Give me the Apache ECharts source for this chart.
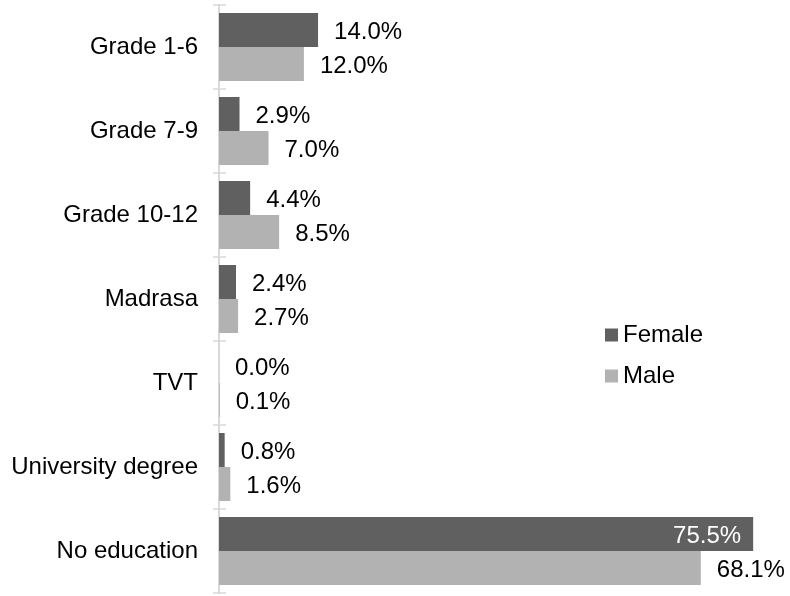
<!DOCTYPE html>
<html>
<head>
  <meta charset="utf-8">
  <title>Education by sex</title>
  <script src="https://cdn.jsdelivr.net/npm/echarts@6/dist/echarts.min.js"></script>
  <style>
    html, body { margin: 0; padding: 0; background: #fff; }
    #chart { width: 790px; height: 596px; }
  </style>
</head>
<body>
<div id="chart"></div>
<script>
  // data
  var categories = ['Grade 1-6', 'Grade 7-9', 'Grade 10-12', 'Madrasa', 'TVT', 'University degree', 'No education'];
  var female = [14.0, 2.9, 4.4, 2.4, 0.0, 0.8, 75.5];
  var male = [12.0, 7.0, 8.5, 2.7, 0.1, 1.6, 68.1];

  var font = 'Liberation Sans, Arial, sans-serif';
  var myChart = echarts.init(document.getElementById('chart'));

  function pct(p) { return p.value.toFixed(1) + '%'; }

  var option = {
    animation: false,
    textStyle: { fontFamily: font },
    legend: {
      orient: 'vertical',
      left: 600,
      top: 318,
      icon: 'rect',
      itemWidth: 13,
      itemHeight: 13,
      itemGap: 17,
      textStyle: { fontSize: 24, color: '#000', fontFamily: font },
      data: ['Female', 'Male']
    },
    grid: { left: 219, top: 5, width: 566, height: 588, containLabel: false },
    xAxis: {
      type: 'value',
      min: 0,
      max: 80,
      show: false
    },
    yAxis: [
      {
        type: 'category',
        data: categories,
        inverse: true,
        axisLine: { lineStyle: { color: '#d9d9d9', width: 2 } },
        axisTick: { show: true, length: 6, lineStyle: { color: '#d9d9d9', width: 1.5 } },
        axisLabel: { fontSize: 24, color: '#000', margin: 21, fontFamily: font }
      },
      {
        type: 'category',
        data: categories,
        inverse: true,
        position: 'left',
        offset: 0,
        axisLine: { show: false },
        axisTick: { show: true, inside: true, length: 7, lineStyle: { color: '#d9d9d9', width: 1.5 } },
        axisLabel: { show: false }
      }
    ],
    series: [
      {
        name: 'Female',
        type: 'bar',
        data: female.map(function (v, i) {
          if (i === 6) {
            return { value: v, label: { position: 'insideRight', color: '#fff', distance: 12 } };
          }
          return v;
        }),
        barWidth: 34,
        barGap: '0%',
        itemStyle: { color: '#606060' },
        label: { show: true, position: 'right', distance: 16, offset: [0, 2], fontSize: 24, color: '#000', formatter: pct }
      },
      {
        name: 'Male',
        type: 'bar',
        data: male,
        barWidth: 34,
        barGap: '0%',
        itemStyle: { color: '#b2b2b2' },
        label: { show: true, position: 'right', distance: 16, offset: [0, 2], fontSize: 24, color: '#000', formatter: pct }
      }
    ]
  };

  option && myChart.setOption(option);

  window.onresize = function () {
    myChart.resize();
  };
</script>
</body>
</html>
